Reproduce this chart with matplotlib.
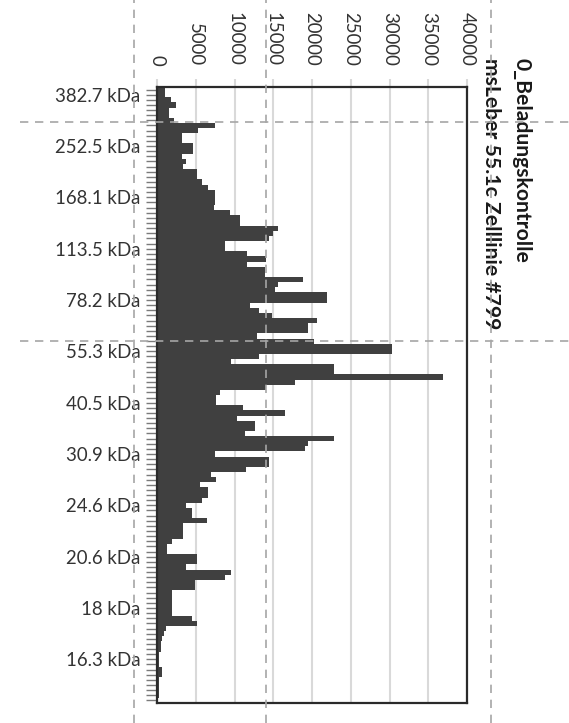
import matplotlib
matplotlib.use("Agg")
import matplotlib.pyplot as plt
from matplotlib.lines import Line2D

# ---- data ----
intensity = [
    1000, 1000, 1800, 2500, 1600, 1600, 2200, 7500, 5300, 3200,
    3200, 4700, 4700, 3200, 3800, 3400, 5100, 5100, 5800, 6600,
    7500, 7500, 7500, 7300, 9400, 10700, 10700, 15600, 15000, 14400,
    8800, 8800, 11600, 14100, 11600, 13900, 13900, 18900, 15650, 15200,
    21900, 21900, 12000, 13100, 14800, 20600, 19500, 19500, 12900, 20200,
    30300, 30300, 13100, 9600, 22800, 22800, 36900, 17800, 14100, 8100,
    7600, 7600, 11100, 16500, 10300, 12600, 12600, 11400, 22800, 19500,
    19100, 7500, 14400, 14400, 11500, 7000, 7600, 5500, 6600, 6600,
    5800, 3800, 4500, 4500, 6400, 3400, 3300, 3300, 1900, 1300,
    1300, 5100, 5100, 3800, 9600, 8800, 4900, 4900, 1900, 1900,
    1900, 1900, 1900, 4500, 5100, 1200, 900, 700, 500, 500,
    300, 300, 300, 600, 600, 250, 250, 200, 200, 150,
]
mw_labels = ["382.7 kDa", "252.5 kDa", "168.1 kDa", "113.5 kDa", "78.2 kDa",
             "55.3 kDa", "40.5 kDa", "30.9 kDa", "24.6 kDa", "20.6 kDa",
             "18 kDa", "16.3 kDa"]
mw_label_index = [1, 11, 21, 31, 41, 51, 61, 71, 81, 91, 101, 111]
value_ticks = [0, 5000, 10000, 15000, 20000, 25000, 30000, 35000, 40000]
title_lines = ["0_Beladungskontrolle", "msLeber 55.1c Zelllinie #799"]

FONT = "Lato"
W, H = 569, 723
fig = plt.figure(figsize=(W / 100, H / 100), dpi=100)
fig.patch.set_facecolor("white")

ax = fig.add_axes([157 / W, 20 / H, 310 / W, 616 / H])
n = len(intensity)
ax.barh(range(n), intensity, height=1.0, color="#404040", linewidth=0, zorder=2)
ax.set_ylim(n - 0.5, -0.5)
ax.set_xlim(value_ticks[0], value_ticks[-1])

# value axis on top, rotated labels
ax.xaxis.tick_top()
ax.set_xticks(value_ticks)
ax.set_xticklabels([str(v) for v in value_ticks], rotation=-90,
                   fontfamily=FONT, fontsize=13.4, color="#333333")
ax.tick_params(axis="x", length=6, width=1.5, color="#d9d9d9", pad=9)
ax.grid(axis="x", color="#d9d9d9", linewidth=1.5, zorder=0)
ax.set_axisbelow(True)

# category axis: one tick per bar, label every 10th
ax.set_yticks(range(n))
ylabels = [""] * n
for idx, lab in zip(mw_label_index, mw_labels):
    ylabels[idx] = lab
ax.set_yticklabels(ylabels, fontfamily=FONT, fontsize=13.4, color="#333333")
ax.tick_params(axis="y", length=8, width=1.0, color="#7a7a7a", pad=4)

for sp in ax.spines.values():
    sp.set_color("#2a2a2a")
    sp.set_linewidth(1.6)

# title (rotated, right side)
fig.text(522 / W, 1 - 58 / H, title_lines[0], rotation=-90, ha="center", va="top",
         fontfamily=FONT, fontweight="bold", fontsize=15.2, color="#1a1a1a")
fig.text(491 / W, 1 - 58 / H, title_lines[1], rotation=-90, ha="center", va="top",
         fontfamily=FONT, fontweight="bold", fontsize=15.2, color="#1a1a1a")

# dashed guide lines across the figure
dash = dict(color="#a6a6a6", linewidth=1.2, linestyle=(0, (5, 4)),
            transform=fig.transFigure, zorder=10)
for yp in (122, 341):
    fig.add_artist(Line2D([20 / W, 1.0], [1 - yp / H, 1 - yp / H], **dash))
for xp in (134, 266, 491):
    fig.add_artist(Line2D([xp / W, xp / W], [0.0, 1.0], **dash))

fig.savefig("out.png", dpi=100, facecolor="white")
